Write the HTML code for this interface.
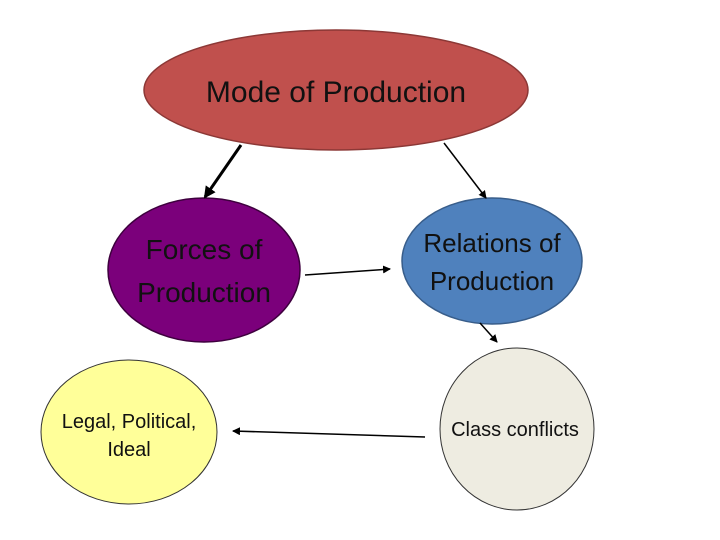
<!DOCTYPE html>
<html><head><meta charset="utf-8"><style>
html,body{margin:0;padding:0;background:#fff;width:720px;height:540px;overflow:hidden}
text{font-family:"Liberation Sans",sans-serif;fill:#111}
</style></head><body>
<svg width="720" height="540" viewBox="0 0 720 540" xmlns="http://www.w3.org/2000/svg">
<defs>
<marker id="a" markerWidth="8" markerHeight="8" refX="7" refY="4" orient="auto" markerUnits="userSpaceOnUse"><path d="M0,0 L8,4 L0,8 z" fill="#000"/></marker>
<marker id="b" markerWidth="12" markerHeight="12" refX="10" refY="6" orient="auto" markerUnits="userSpaceOnUse"><path d="M0,0 L12,6 L0,12 z" fill="#000"/></marker>
</defs>
<ellipse cx="336" cy="90" rx="192" ry="60" fill="#c0504d" stroke="#8c3836" stroke-width="1.5"/>
<text x="336" y="102" font-size="30" text-anchor="middle">Mode of Production</text>
<ellipse cx="204" cy="270" rx="96" ry="72" fill="#7b007b" stroke="#3e003e" stroke-width="1.5"/>
<text x="204" y="259" font-size="28" text-anchor="middle">Forces of</text>
<text x="204" y="302" font-size="28" text-anchor="middle">Production</text>
<ellipse cx="492" cy="261" rx="90" ry="63" fill="#4f81bd" stroke="#385d8a" stroke-width="1.5"/>
<text x="492" y="252" font-size="26" text-anchor="middle">Relations of</text>
<text x="492" y="290" font-size="26" text-anchor="middle">Production</text>
<ellipse cx="129" cy="432" rx="88" ry="72" fill="#ffff99" stroke="#333" stroke-width="1"/>
<text x="129" y="428" font-size="20" text-anchor="middle">Legal, Political,</text>
<text x="129" y="456" font-size="20" text-anchor="middle">Ideal</text>
<ellipse cx="517" cy="429" rx="77" ry="81" fill="#eeece1" stroke="#333" stroke-width="1"/>
<text x="515" y="436" font-size="20" text-anchor="middle">Class conflicts</text>
<line x1="241" y1="145" x2="205" y2="197" stroke="#000" stroke-width="3" marker-end="url(#b)"/>
<line x1="444" y1="143" x2="486" y2="198" stroke="#000" stroke-width="1.5" marker-end="url(#a)"/>
<line x1="305" y1="275" x2="390" y2="269" stroke="#000" stroke-width="1.5" marker-end="url(#a)"/>
<line x1="480" y1="323" x2="497" y2="342" stroke="#000" stroke-width="1.5" marker-end="url(#a)"/>
<line x1="425" y1="437" x2="233" y2="431" stroke="#000" stroke-width="1.5" marker-end="url(#a)"/>
</svg>
</body></html>
